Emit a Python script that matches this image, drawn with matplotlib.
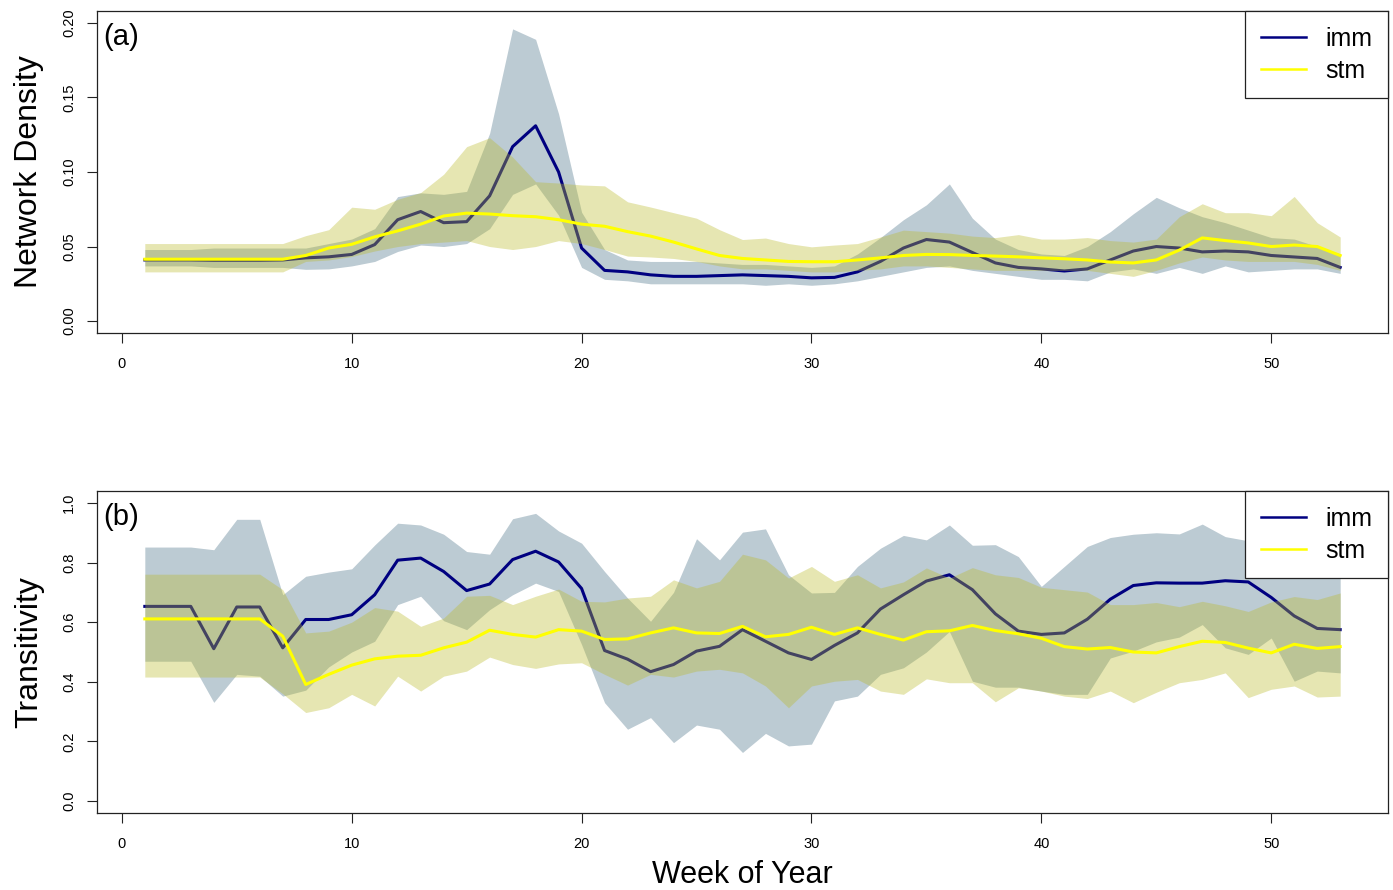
import numpy as np
import matplotlib
matplotlib.use("Agg")
import matplotlib.pyplot as plt

plt.rcParams['font.family'] = ['Liberation Sans', 'DejaVu Sans']

weeks = np.arange(1, 54)

# ---- Panel (a): Network Density ----
imm_a = [0.041, 0.041, 0.041, 0.0408, 0.0408, 0.0408, 0.041, 0.0424, 0.0431, 0.0447,
         0.0513, 0.068, 0.0735, 0.066, 0.0667, 0.084, 0.117, 0.131, 0.100, 0.049,
         0.034, 0.033, 0.031, 0.030, 0.030, 0.0305, 0.031, 0.0305, 0.030, 0.029,
         0.0293, 0.033, 0.040, 0.049, 0.0547, 0.053, 0.046, 0.039, 0.036, 0.035,
         0.0336, 0.035, 0.041, 0.047, 0.050, 0.049, 0.0464, 0.047, 0.0464, 0.044,
         0.043, 0.042, 0.036]
imm_a_lo = [0.037, 0.037, 0.037, 0.036, 0.036, 0.036, 0.036, 0.0347, 0.035, 0.037,
            0.040, 0.0467, 0.051, 0.050, 0.052, 0.062, 0.085, 0.092, 0.071, 0.036,
            0.028, 0.027, 0.025, 0.025, 0.025, 0.025, 0.025, 0.024, 0.025, 0.024,
            0.025, 0.027, 0.030, 0.033, 0.036, 0.037, 0.034, 0.032, 0.030, 0.028,
            0.028, 0.027, 0.033, 0.035, 0.032, 0.036, 0.032, 0.037, 0.033, 0.034,
            0.035, 0.035, 0.032]
imm_a_hi = [0.048, 0.048, 0.048, 0.049, 0.049, 0.049, 0.049, 0.049, 0.052, 0.055,
            0.062, 0.0835, 0.086, 0.085, 0.087, 0.126, 0.196, 0.189, 0.139, 0.073,
            0.048, 0.041, 0.040, 0.040, 0.040, 0.039, 0.038, 0.038, 0.037, 0.036,
            0.037, 0.045, 0.056, 0.068, 0.078, 0.092, 0.069, 0.055, 0.048, 0.045,
            0.044, 0.050, 0.060, 0.072, 0.083, 0.076, 0.070, 0.066, 0.061, 0.056,
            0.055, 0.050, 0.045]
stm_a = [0.0415, 0.0415, 0.0415, 0.0415, 0.0415, 0.0415, 0.0415, 0.044, 0.049, 0.0515,
         0.0565, 0.0605, 0.065, 0.0705, 0.0724, 0.0718, 0.0707, 0.070, 0.068, 0.065,
         0.0636, 0.060, 0.057, 0.053, 0.0484, 0.044, 0.042, 0.041, 0.040, 0.0398,
         0.0398, 0.041, 0.0424, 0.044, 0.0447, 0.0446, 0.044, 0.0436, 0.0431, 0.0424,
         0.0418, 0.041, 0.0396, 0.039, 0.041, 0.0476, 0.0558, 0.054, 0.0524, 0.050,
         0.051, 0.050, 0.044]
stm_a_lo = [0.033, 0.033, 0.033, 0.033, 0.033, 0.033, 0.033, 0.040, 0.041, 0.0433,
            0.047, 0.050, 0.052, 0.053, 0.054, 0.050, 0.048, 0.050, 0.054, 0.052,
            0.048, 0.0436, 0.043, 0.042, 0.040, 0.037, 0.035, 0.035, 0.034, 0.033,
            0.033, 0.034, 0.035, 0.037, 0.037, 0.036, 0.035, 0.034, 0.034, 0.034,
            0.034, 0.034, 0.032, 0.030, 0.034, 0.039, 0.043, 0.041, 0.040, 0.040,
            0.040, 0.038, 0.034]
stm_a_hi = [0.052, 0.052, 0.052, 0.052, 0.052, 0.052, 0.052, 0.0573, 0.0613, 0.0764,
            0.075, 0.0817, 0.0862, 0.0985, 0.117, 0.123, 0.110, 0.0935, 0.0926, 0.0913,
            0.0907, 0.080, 0.0765, 0.0727, 0.069, 0.0613, 0.0547, 0.0557, 0.052, 0.0498,
            0.051, 0.052, 0.0564, 0.061, 0.060, 0.059, 0.057, 0.056, 0.058, 0.055,
            0.055, 0.056, 0.054, 0.053, 0.055, 0.070, 0.0787, 0.0727, 0.0727, 0.0707,
            0.0836, 0.066, 0.0564]

# ---- Panel (b): Transitivity ----
imm_b = [0.653, 0.653, 0.653, 0.511, 0.651, 0.651, 0.514, 0.609, 0.609, 0.625,
         0.692, 0.808, 0.815, 0.770, 0.706, 0.728, 0.810, 0.838, 0.802, 0.713,
         0.505, 0.476, 0.434, 0.458, 0.503, 0.519, 0.575, 0.536, 0.497, 0.475,
         0.522, 0.564, 0.644, 0.692, 0.738, 0.759, 0.709, 0.628, 0.570, 0.559,
         0.564, 0.610, 0.677, 0.723, 0.732, 0.731, 0.731, 0.739, 0.735, 0.683,
         0.621, 0.579, 0.575]
imm_b_lo = [0.469, 0.469, 0.469, 0.331, 0.425, 0.419, 0.352, 0.372, 0.450, 0.500,
            0.536, 0.659, 0.687, 0.605, 0.575, 0.642, 0.692, 0.731, 0.703, 0.525,
            0.330, 0.241, 0.280, 0.196, 0.255, 0.241, 0.163, 0.227, 0.185, 0.191,
            0.336, 0.352, 0.425, 0.447, 0.500, 0.569, 0.402, 0.382, 0.382, 0.369,
            0.358, 0.358, 0.480, 0.503, 0.534, 0.550, 0.592, 0.514, 0.492, 0.547,
            0.402, 0.436, 0.430]
imm_b_hi = [0.852, 0.852, 0.852, 0.843, 0.945, 0.945, 0.692, 0.754, 0.768, 0.779,
            0.859, 0.932, 0.926, 0.895, 0.837, 0.828, 0.947, 0.965, 0.906, 0.865,
            0.770, 0.681, 0.603, 0.700, 0.880, 0.809, 0.902, 0.913, 0.759, 0.698,
            0.700, 0.787, 0.848, 0.891, 0.876, 0.926, 0.858, 0.860, 0.820, 0.720,
            0.787, 0.854, 0.884, 0.895, 0.900, 0.896, 0.929, 0.887, 0.873, 0.862,
            0.817, 0.787, 0.759]
stm_b = [0.611, 0.611, 0.611, 0.611, 0.611, 0.611, 0.553, 0.391, 0.425, 0.456,
         0.477, 0.486, 0.489, 0.514, 0.533, 0.573, 0.559, 0.550, 0.575, 0.570,
         0.542, 0.544, 0.564, 0.581, 0.564, 0.562, 0.586, 0.551, 0.559, 0.583,
         0.559, 0.581, 0.559, 0.540, 0.568, 0.571, 0.589, 0.572, 0.561, 0.546,
         0.518, 0.510, 0.515, 0.500, 0.497, 0.518, 0.536, 0.532, 0.513, 0.497,
         0.526, 0.512, 0.518]
stm_b_lo = [0.416, 0.416, 0.416, 0.416, 0.416, 0.416, 0.360, 0.297, 0.313, 0.358,
            0.319, 0.419, 0.369, 0.419, 0.436, 0.483, 0.458, 0.445, 0.460, 0.464,
            0.425, 0.389, 0.425, 0.416, 0.436, 0.442, 0.430, 0.386, 0.313, 0.386,
            0.402, 0.408, 0.369, 0.358, 0.410, 0.397, 0.397, 0.333, 0.380, 0.369,
            0.352, 0.344, 0.369, 0.330, 0.365, 0.397, 0.408, 0.430, 0.347, 0.375,
            0.386, 0.349, 0.352]
stm_b_hi = [0.761, 0.761, 0.761, 0.761, 0.761, 0.761, 0.709, 0.564, 0.570, 0.600,
            0.649, 0.637, 0.586, 0.614, 0.687, 0.690, 0.659, 0.687, 0.711, 0.670,
            0.668, 0.681, 0.687, 0.742, 0.715, 0.737, 0.828, 0.809, 0.748, 0.787,
            0.737, 0.759, 0.715, 0.735, 0.782, 0.748, 0.783, 0.759, 0.750, 0.717,
            0.709, 0.701, 0.659, 0.659, 0.666, 0.652, 0.670, 0.655, 0.636, 0.668,
            0.686, 0.676, 0.698]

x_ticks = [0, 10, 20, 30, 40, 50]
y_ticks_a = [0.00, 0.05, 0.10, 0.15, 0.20]
y_ticks_b = [0.0, 0.2, 0.4, 0.6, 0.8, 1.0]
series_names = ['imm', 'stm']

imm_band_col = (64/255, 106/255, 129/255, 0.35)
stm_band_col = (186/255, 186/255, 42/255, 0.36)
imm_line_col = '#000080'
stm_line_col = '#FFFF00'

W, H = 1393, 890
fig = plt.figure(figsize=(W/100, H/100), dpi=100)

def px_axes(left, top, right, bottom):
    return fig.add_axes([left/W, 1 - bottom/H, (right-left)/W, (bottom-top)/H])

ax_a = px_axes(97, 11, 1388, 333)
ax_b = px_axes(97, 491, 1388, 813)

def draw_panel(ax, imm, imm_lo, imm_hi, stm, stm_lo, stm_hi, ylim, yticks, fmt, ylabel, tag):
    ax.fill_between(weeks, imm_lo, imm_hi, color=imm_band_col, linewidth=0, zorder=1)
    ax.plot(weeks, imm, color=imm_line_col, lw=2.2, zorder=2)
    ax.fill_between(weeks, stm_lo, stm_hi, color=stm_band_col, linewidth=0, zorder=3)
    ax.plot(weeks, stm, color=stm_line_col, lw=2.2, zorder=4)
    span = 53 - 1
    ax.set_xlim(1 - 0.04*span, 53 + 0.04*span)
    yr = ylim[1] - ylim[0]
    ax.set_ylim(ylim[0] - 0.04*yr, ylim[1] + 0.04*yr)
    ax.set_xticks(x_ticks)
    ax.set_xticklabels([str(t) for t in x_ticks])
    ax.set_yticks(yticks)
    ax.set_yticklabels([fmt.format(t) for t in yticks], rotation=90, va='center')
    ax.tick_params(axis='both', length=7, width=0.8, labelsize=10.5, color='#222222')
    ax.tick_params(axis='x', pad=10)
    ax.tick_params(axis='y', pad=8)
    for s in ax.spines.values():
        s.set_linewidth(0.9)
        s.set_color('#222222')
    ax.set_ylabel(ylabel, fontsize=23)
    ax.yaxis.set_label_coords(-0.041, 0.5)
    ax.text(0.005, 0.92, tag, transform=ax.transAxes, fontsize=21, va='center',
            ha='left', zorder=6)
    leg_handles = [plt.Line2D([], [], color=imm_line_col, lw=1.8),
                   plt.Line2D([], [], color=stm_line_col, lw=1.8)]
    leg = ax.legend(leg_handles, series_names, loc='upper right', fontsize=18,
                    frameon=True, fancybox=False, framealpha=1, edgecolor='#222222',
                    borderaxespad=0, borderpad=0.62, handlelength=1.8,
                    handletextpad=0.8, labelspacing=0.32)
    leg.get_frame().set_linewidth(0.9)
    leg.set_zorder(10)

draw_panel(ax_a, imm_a, imm_a_lo, imm_a_hi, stm_a, stm_a_lo, stm_a_hi,
           (0.0, 0.2), y_ticks_a, '{:.2f}', 'Network Density', '(a)')
draw_panel(ax_b, imm_b, imm_b_lo, imm_b_hi, stm_b, stm_b_lo, stm_b_hi,
           (0.0, 1.0), y_ticks_b, '{:.1f}', 'Transitivity', '(b)')

ax_b.set_xlabel('Week of Year', fontsize=22)
ax_b.xaxis.set_label_coords(0.5, -0.145)

fig.savefig('out.png', dpi=100)
